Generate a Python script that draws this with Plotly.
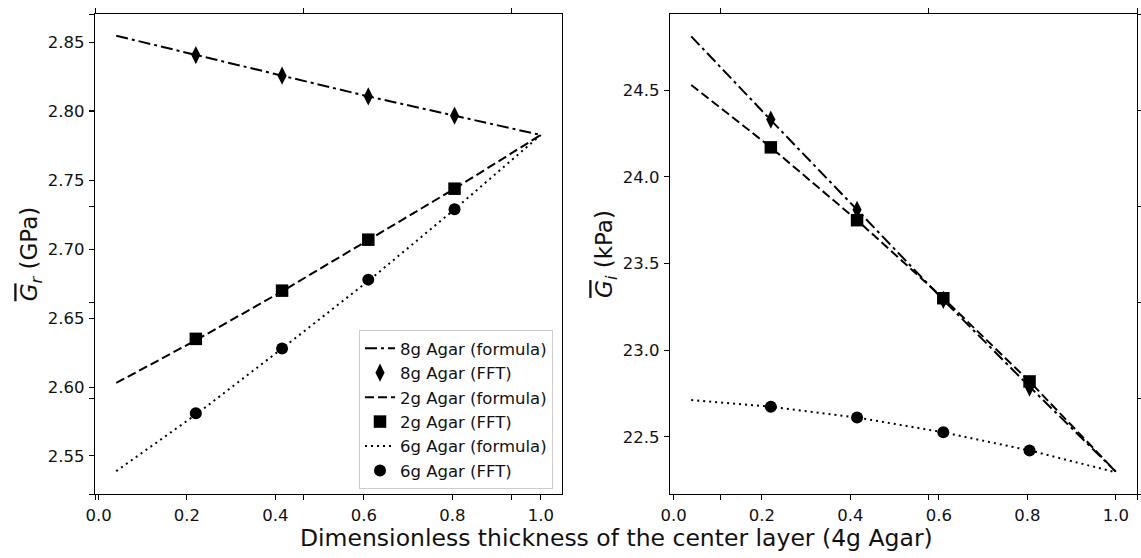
import plotly.graph_objects as go

# ---------------- data ----------------
# dimensionless thickness of the centre layer
x_formula = [0.04, 0.22, 0.415, 0.61, 0.805, 1.0]
x_fft = [0.22, 0.415, 0.61, 0.805]

# real part  G_r (GPa)
gr_8g_formula = [2.855, 2.841, 2.826, 2.811, 2.797, 2.783]
gr_8g_fft = [2.841, 2.826, 2.811, 2.797]
gr_2g_formula = [2.603, 2.634, 2.6695, 2.7068, 2.744, 2.783]
gr_2g_fft = [2.635, 2.670, 2.707, 2.744]
gr_6g_formula = [2.539, 2.580, 2.628, 2.677, 2.729, 2.783]
gr_6g_fft = [2.581, 2.628, 2.678, 2.729]

# imaginary part  G_i (kPa)
gi_8g_formula = [24.81, 24.327, 23.81, 23.29, 22.79, 22.30]
gi_8g_fft = [24.33, 23.81, 23.29, 22.785]
gi_2g_formula = [24.53, 24.17, 23.75, 23.30, 22.82, 22.30]
gi_2g_fft = [24.17, 23.75, 23.30, 22.82]
gi_6g_formula = [22.713, 22.674, 22.612, 22.527, 22.422, 22.296]
gi_6g_fft = [22.674, 22.612, 22.527, 22.422]

names = ["8g Agar (formula)", "8g Agar (FFT)",
         "2g Agar (formula)", "2g Agar (FFT)",
         "6g Agar (formula)", "6g Agar (FFT)"]

x_ticks = [0.0, 0.2, 0.4, 0.6, 0.8, 1.0]
gr_ticks = [2.55, 2.60, 2.65, 2.70, 2.75, 2.80, 2.85]
gi_ticks = [22.5, 23.0, 23.5, 24.0, 24.5]
frame_ticks = [0.0, 0.2, 0.4, 0.6, 0.8, 1.0]

# ---------------- styling ----------------
W, H = 1141, 558
FONT = "DejaVu Sans"
TXT = "#111111"
DASHES = {"8g": "12px,4px,3px,4px", "2g": "9px,4px", "6g": "2px,4px"}
SYMBOLS = {"8g": "diamond-tall", "2g": "square", "6g": "circle"}
MSIZE = {"8g": 13, "2g": 12.5, "6g": 12}

left_dom = [95 / W, 562 / W]
right_dom = [670 / W, 1137 / W]
y_dom = [1 - 494 / H, 1 - 14 / H]

fig = go.Figure()

def add_set(xa, ya, formulas, ffts, show):
    for i, key in enumerate(["8g", "2g", "6g"]):
        fig.add_trace(go.Scatter(
            x=x_formula, y=formulas[i], mode="lines", name=names[2 * i],
            line=dict(color="black", width=2, dash=DASHES[key]),
            xaxis=xa, yaxis=ya, showlegend=show, hoverinfo="x+y"))
        fig.add_trace(go.Scatter(
            x=x_fft, y=ffts[i], mode="markers", name=names[2 * i + 1],
            marker=dict(color="black", symbol=SYMBOLS[key], size=MSIZE[key],
                        line=dict(width=0)),
            xaxis=xa, yaxis=ya, showlegend=show, hoverinfo="x+y"))

add_set("x", "y", [gr_8g_formula, gr_2g_formula, gr_6g_formula],
        [gr_8g_fft, gr_2g_fft, gr_6g_fft], True)
add_set("x2", "y2", [gi_8g_formula, gi_2g_formula, gi_6g_formula],
        [gi_8g_fft, gi_2g_fft, gi_6g_fft], False)

# invisible trace for the figure-wide frame axes
fig.add_trace(go.Scatter(x=[], y=[], xaxis="x3", yaxis="y3",
                         showlegend=False, hoverinfo="skip"))

tickfont = dict(family=FONT, size=16.5, color=TXT)
titlefont = dict(family=FONT, size=23, color=TXT)

common = dict(showline=True, linecolor="black", linewidth=1.3, mirror=True,
              ticks="outside", ticklen=5, tickwidth=1.3, tickcolor="black",
              showgrid=False, zeroline=False, tickfont=tickfont,
              ticklabelstandoff=1, automargin=False)

frame = dict(range=[0, 1], tickvals=frame_ticks, showticklabels=False,
             showline=False, mirror="ticks", ticks="outside", ticklen=5,
             tickwidth=1.2, tickcolor="black", showgrid=False, zeroline=False,
             fixedrange=True, automargin=False)

OVER_G = '<span style="text-decoration:overline"><i>G</i></span>'

fig.update_layout(
    width=W, height=H,
    margin=dict(l=0, r=0, t=0, b=0, autoexpand=False),
    paper_bgcolor="white", plot_bgcolor="rgba(0,0,0,0)",
    font=dict(family=FONT, color=TXT),
    xaxis=dict(domain=left_dom, anchor="y", range=[-0.008, 1.048],
               tickvals=x_ticks, tickformat=".1f", **common),
    yaxis=dict(domain=y_dom, anchor="x", range=[2.5224, 2.8708],
               tickvals=gr_ticks, tickformat=".2f",
               title=dict(text=OVER_G + "<sub><i>r</i></sub> (GPa)",
                          font=titlefont, standoff=3),
               **common),
    xaxis2=dict(domain=right_dom, anchor="y2", range=[-0.008, 1.048],
                tickvals=x_ticks, tickformat=".1f", **common),
    yaxis2=dict(domain=y_dom, anchor="x2", range=[22.171, 24.939],
                tickvals=gi_ticks, tickformat=".1f",
                title=dict(text=OVER_G + "<sub><i>i</i></sub> (kPa)",
                           font=titlefont, standoff=3),
                **common),
    xaxis3=dict(domain=[left_dom[0], right_dom[1]], anchor="y3", **frame),
    yaxis3=dict(domain=y_dom, anchor="x3", **frame),
    legend=dict(x=553 / W, y=1 - 330 / H, xanchor="right", yanchor="top",
                bgcolor="white", bordercolor="#cccccc", borderwidth=1,
                font=dict(family=FONT, size=16.5, color=TXT),
                tracegroupgap=0),
    annotations=[dict(
        text="Dimensionless thickness of the center layer (4g Agar)",
        x=(95 + 1137) / 2 / W, y=1 - 538 / H, xref="paper", yref="paper",
        xanchor="center", yanchor="middle", showarrow=False,
        font=dict(family=FONT, size=23.5, color=TXT))],
)

fig.write_html(
    "out.html",
    config={"displayModeBar": False},
    post_script="document.body.style.margin='0';"
                "document.body.style.overflow='hidden';",
)
